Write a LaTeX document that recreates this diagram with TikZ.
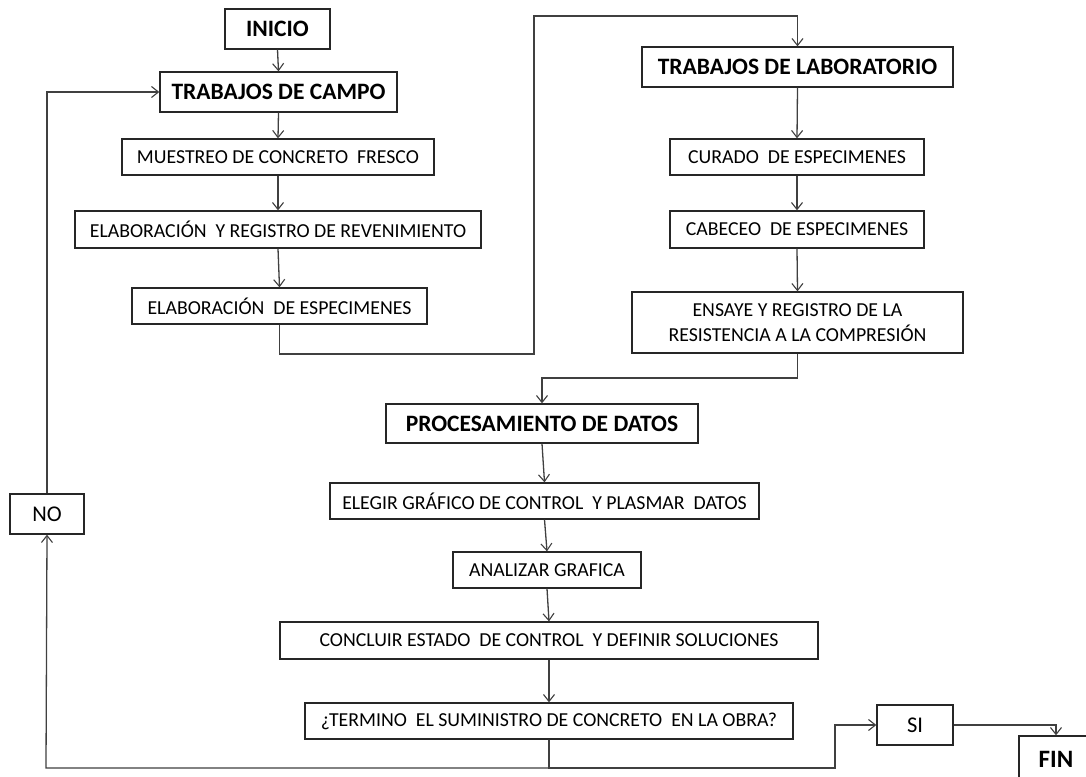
\documentclass[tikz,border=0pt]{standalone}
\usepackage{fontspec}
\setmainfont{Carlito}
\usetikzlibrary{arrows.meta}
\begin{document}
\begin{tikzpicture}[x=1pt,y=-1pt,
  box/.style={draw=black!85,line width=1.3pt,rectangle,inner sep=0pt,align=center,
    font=\fontsize{19.8}{24.5}\selectfont},
  bbox/.style={box,font=\fontsize{23.5}{27}\bfseries\selectfont},
  lbox/.style={box,font=\fontsize{22.5}{26}\selectfont},
  conn/.style={draw=black!75,line width=1.3pt},
  arr/.style={conn,-{Straight Barb[length=7pt,width=11pt,line width=1.1pt]}}]
\useasboundingbox (0,0) rectangle (1086,776);
\clip (0,0) rectangle (1086,776);
\fill[white] (0,0) rectangle (1086,776);
% nodes
\node[bbox,minimum width=105,minimum height=40] (ini) at (277.5,29) {INICIO};
\node[bbox,minimum width=237,minimum height=40] (tdc) at (278.5,92) {TRABAJOS DE CAMPO};
\node[box,minimum width=312,minimum height=36] (mue) at (278,157) {MUESTREO DE CONCRETO\ \ FRESCO};
\node[box,minimum width=406,minimum height=37] (reg) at (278,229.5) {ELABORACIÓN\ \ Y REGISTRO DE REVENIMIENTO};
\node[box,minimum width=295,minimum height=36] (esp) at (279.5,306) {ELABORACIÓN\ \ DE ESPECIMENES};
\node[bbox,minimum width=311,minimum height=40] (tdl) at (797.5,67) {TRABAJOS DE LABORATORIO};
\node[box,minimum width=254,minimum height=36] (cur) at (797,157) {CURADO\ \ DE ESPECIMENES};
\node[box,minimum width=254,minimum height=37] (cab) at (797,229.5) {CABECEO\ \ DE ESPECIMENES};
\node[box,minimum width=331,minimum height=61] (ens) at (797.5,322.5) {ENSAYE Y REGISTRO DE LA\\RESISTENCIA A LA COMPRESIÓN};
\node[bbox,minimum width=312,minimum height=39] (pro) at (542,423.5) {PROCESAMIENTO DE DATOS};
\node[box,minimum width=429,minimum height=36] (ele) at (544.5,501) {ELEGIR GRÁFICO DE CONTROL\ \ Y PLASMAR\ \ DATOS};
\node[box,minimum width=188,minimum height=36] (ana) at (547,570) {ANALIZAR GRAFICA};
\node[box,minimum width=538,minimum height=37] (con) at (549,640.5) {CONCLUIR ESTADO\ \ DE CONTROL\ \ Y DEFINIR SOLUCIONES};
\node[box,minimum width=488,minimum height=36] (ter) at (549,721) {¿TERMINO\ \ EL SUMINISTRO DE CONCRETO\ \ EN LA OBRA?};
\node[lbox,minimum width=74,minimum height=40] (no) at (47,514) {NO};
\node[lbox,minimum width=76,minimum height=40] (si) at (915,725) {SI};
\node[bbox,font=\fontsize{25}{28}\bfseries\selectfont,minimum width=74,minimum height=46] (fin) at (1056,759) {FIN};
% junction coordinates
\coordinate (j1) at (534,354);
\coordinate (j2) at (534,16);
\coordinate (j3) at (542,378);
\coordinate (j4) at (46,768);
\coordinate (j5) at (835,768);
% connectors
\draw[arr] (ini.south) -- (tdc.north);
\draw[arr] (tdc.south) -- (mue.north);
\draw[arr] (mue.south) -- (reg.north);
\draw[arr] (reg.south) -- (esp.north);
\draw[arr] (esp.south) |- (j1) -- (j2) -| (tdl.north);
\draw[arr] (tdl.south) -- (cur.north);
\draw[arr] (cur.south) -- (cab.north);
\draw[arr] (cab.south) -- (ens.north);
\draw[arr] (ens.south) |- (j3) -| (pro.north);
\draw[arr] (pro.south) -- (ele.north);
\draw[arr] (ele.south) -- (ana.north);
\draw[arr] (ana.south) -- (con.north);
\draw[arr] (con.south) -- (ter.north);
\draw[arr] (ter.south) |- (j4) -- (no.south);
\draw[arr] (no.north) |- (tdc.west);
\draw[arr] (ter.south) |- (j5) |- (si.west);
\draw[arr] (si.east) -| (fin.north);
\end{tikzpicture}
\end{document}
